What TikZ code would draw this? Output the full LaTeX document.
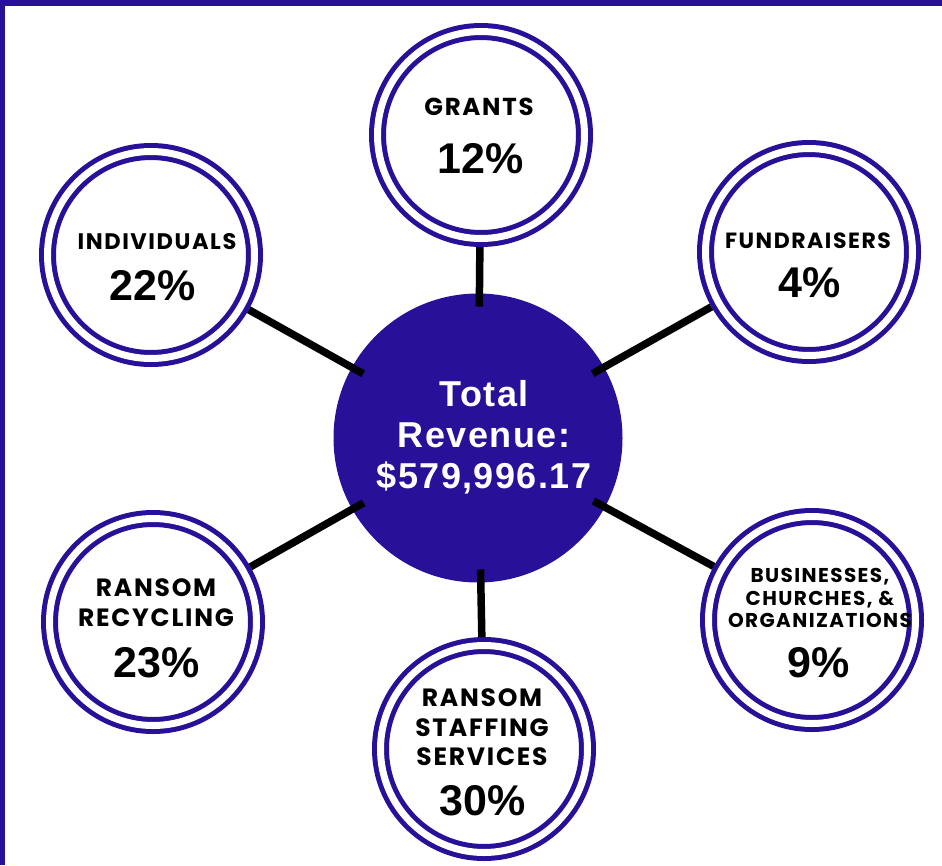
\documentclass[tikz,border=0pt]{standalone}
\usepackage{fontspec}
\newfontfamily\labfont{Poppins}[LetterSpace=7]
\newfontfamily\pctfont{Liberation Sans}
\newfontfamily\hubfont{Liberation Sans}[LetterSpace=4]
\definecolor{rp}{HTML}{281098}
\tikzset{
  ring/.style={circle, draw=rp, double=white, double distance=7pt, line width=5pt,
    minimum size=207pt, inner sep=0pt, outer sep=8.5pt},
  hubnode/.style={circle, fill=rp, minimum size=289pt, inner sep=0pt, outer sep=0pt},
  hubtext/.style={text=white, align=center, inner sep=0pt, font=\hubfont\bfseries\fontsize{36}{41}\selectfont},
  conn/.style={line width=7.5pt, black, shorten <=-13pt},
  lab/.style={anchor=south, inner sep=0pt, align=center},
  pct/.style={anchor=base, inner sep=0pt, font=\pctfont\bfseries\fontsize{43}{43}\selectfont},
}
\begin{document}
\begin{tikzpicture}[x=1pt, y=-1pt]
\useasboundingbox (0,0) rectangle (942,865);
\fill[rp] (0,0) rectangle (942,6);
\fill[rp] (0,0) rectangle (5,865);

\node[hubnode] (hub) at (478,438) {};

\node[ring] (grants) at (481,135) {};
\node[ring] (indiv) at (151,255) {};
\node[ring] (fund) at (809,252) {};
\node[ring] (recyc) at (153,622) {};
\node[ring] (staff) at (484,749) {};
\node[ring] (busi) at (812,620) {};

\draw[conn] (hub) -- (grants);
\draw[conn] (hub) -- (indiv);
\draw[conn] (hub) -- (fund);
\draw[conn] (hub) -- (recyc);
\draw[conn] (hub) -- (staff);
\draw[conn] (hub) -- (busi);

\node[hubtext] (hub-t) at (484,437) {Total\\Revenue:\\\$579,996.17};

\node[lab, font=\labfont\bfseries\fontsize{24.5}{30}\selectfont] (grants-l) at (479,116) {GRANTS};
\node[pct] (grants-p) at (481,173) {12\%};

\node[lab, font=\labfont\bfseries\fontsize{22.5}{30}\selectfont] (indiv-l) at (157,250) {INDIVIDUALS};
\node[pct] (indiv-p) at (153,300) {22\%};

\node[lab, font=\labfont\bfseries\fontsize{22}{30}\selectfont] (fund-l) at (808,249) {FUNDRAISERS};
\node[pct] (fund-p) at (810,297) {4\%};

\node[lab, font=\labfont\bfseries\fontsize{25}{30}\selectfont] (recyc-l) at (156,627) {RANSOM\\RECYCLING};
\node[pct] (recyc-p) at (157,677) {23\%};

\node[lab, font=\labfont\bfseries\fontsize{25}{29.5}\selectfont] (staff-l) at (482,766) {RANSOM\\STAFFING\\SERVICES};
\node[pct] (staff-p) at (483,815) {30\%};

\node[lab, font=\labfont\bfseries\fontsize{20}{22.5}\selectfont] (busi-l) at (820,628) {BUSINESSES,\\CHURCHES, \&\\ORGANIZATIONS};
\node[pct] (busi-p) at (819,677) {9\%};
\end{tikzpicture}
\end{document}
